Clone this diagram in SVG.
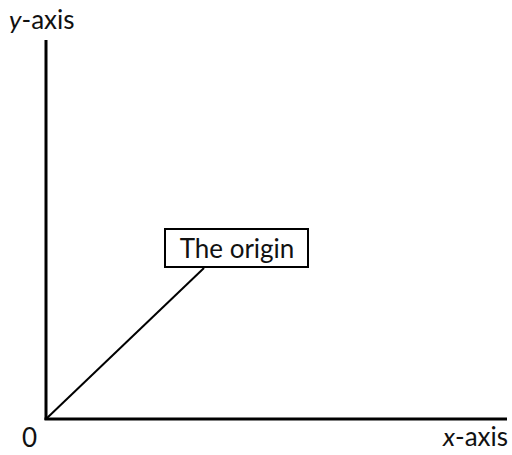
<svg xmlns="http://www.w3.org/2000/svg" width="512" height="455" viewBox="0 0 512 455">
<style>
.t{font-family:Lato,"Open Sans",sans-serif;fill:#111;font-size:26px}
.ax{stroke:#000;stroke-width:3;fill:none}
.ln{stroke:#000;stroke-width:2;fill:none}
</style>
<rect width="512" height="455" fill="#fff"/>
<g id="connectors">
<line class="ax" x1="46" y1="40" x2="46" y2="420"/>
<line class="ax" x1="44.5" y1="419" x2="507" y2="419"/>
<line class="ln" x1="46" y1="419" x2="204" y2="268"/>
</g>
<g id="yaxis-label"><text class="t" x="9" y="29"><tspan font-style="italic">y</tspan>-axis</text></g>
<g id="xaxis-label"><text class="t" x="508" y="446" text-anchor="end"><tspan font-style="italic">x</tspan>-axis</text></g>
<g id="zero-label"><text class="t" x="22" y="447">0</text></g>
<g id="origin-box">
<rect x="165" y="229" width="143" height="38" fill="#fff" stroke="#000" stroke-width="2"/>
<text class="t" x="237" y="258" text-anchor="middle" font-size="28">The origin</text>
</g>
</svg>
